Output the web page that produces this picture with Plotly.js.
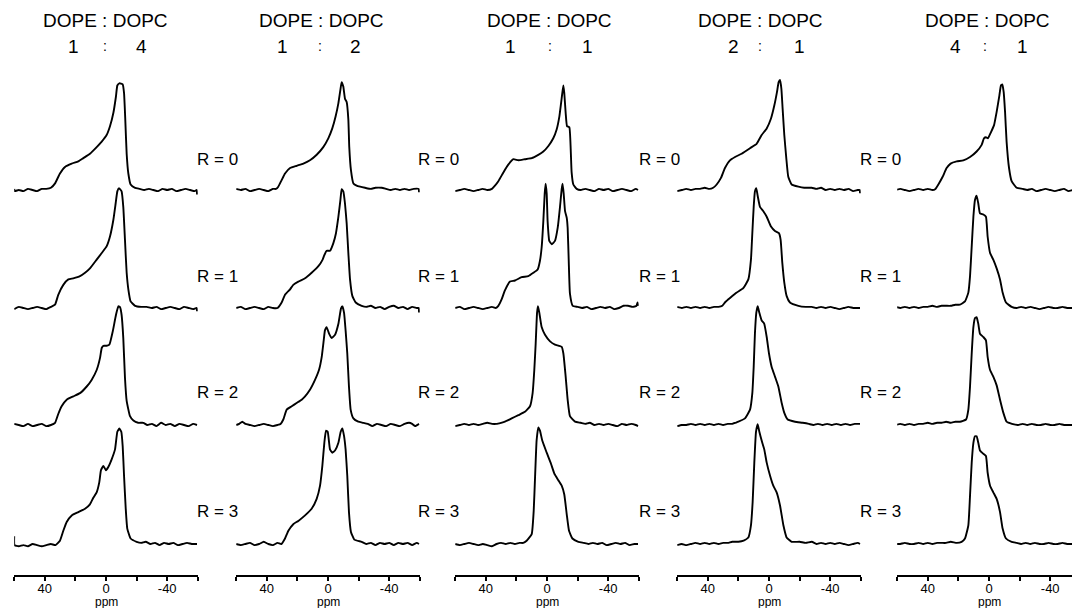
<!DOCTYPE html>
<html><head><meta charset="utf-8">
<script src="https://cdn.plot.ly/plotly-3.0.1.min.js"></script>
<style>html,body{margin:0;padding:0;background:#fff}#chart{width:1072px;height:608px}</style>
</head><body><div id="chart"></div>
<script>
// ---------- data (ppm, relative intensity) ----------
const ratioLeft  = ["1","1","1","2","4"];
const ratioRight = ["4","2","1","1","1"];
const panelTitle = "DOPE : DOPC";
const rLabels = ["R = 0","R = 1","R = 2","R = 3"];
const tickVals = [60,40,20,0,-20,-40,-60];
const tickText = ["","40","","0","","-40",""];

const C1R0 = [[60,0.01],[59.6,-0.01],[57,0],[54,-0.01],[51,0.01],[48,0],[45,-0.01],[42,0.01],[39,0.01],[36,0.02],[33.3,0.06],[30.1,0.15],[26.8,0.21],[22.4,0.24],[18.1,0.26],[14.8,0.29],[10.5,0.33],[6.1,0.39],[2.8,0.44],[-0.4,0.50],[-2.6,0.58],[-4.8,0.70],[-6.5,0.85],[-7.4,0.95],[-8.7,0.97],[-10.9,0.96],[-11.8,0.88],[-12.6,0.64],[-13.5,0.33],[-14.6,0.15],[-16.1,0.05],[-19,0.02],[-22,0.01],[-25,0],[-28,0.01],[-31,0],[-34,-0.01],[-37,0.01],[-40,0],[-43,0.01],[-46,-0.01],[-49,0],[-52,0.01],[-55,0],[-58,-0.01],[-59.3,0],[-59.5,-0.04]];
const C1R1 = [[60,-0.01],[57,0.01],[54,0],[51,-0.01],[48,0],[45,0.01],[42,0],[39,-0.01],[36,0.01],[33.3,0.03],[31.2,0.12],[27.9,0.21],[24.6,0.26],[21.4,0.27],[17,0.29],[13.7,0.32],[10.5,0.36],[6.1,0.44],[2.8,0.50],[-0.4,0.56],[-2.6,0.65],[-4.8,0.80],[-6.3,0.95],[-7.4,1.06],[-8.5,1.09],[-10.2,1.06],[-11.3,0.92],[-12.4,0.62],[-13.5,0.32],[-14.6,0.17],[-16.1,0.06],[-19,0.02],[-23,0.01],[-26.6,0.01],[-30,0],[-33,0.01],[-36,-0.01],[-39,0],[-42,0.01],[-45,0],[-48,-0.01],[-51,0.01],[-54,0],[-57,-0.01],[-59.3,0],[-59.5,-0.03]];
const C1R2 = [[60,0.01],[57,0],[54,-0.01],[51,0.01],[48,-0.01],[45,0],[42,0.01],[39,-0.01],[36,0],[33.3,0.02],[31.2,0.10],[29,0.17],[25.7,0.23],[21.4,0.26],[17,0.29],[12.6,0.35],[9.4,0.41],[6.1,0.50],[3.9,0.61],[2.8,0.70],[1.7,0.72],[-0.4,0.72],[-2.2,0.73],[-4.4,0.85],[-6.5,1.00],[-8.1,1.08],[-9.2,1.07],[-10.2,1.00],[-11.3,0.79],[-12.4,0.43],[-13.5,0.22],[-15.7,0.08],[-17.9,0.04],[-21,0.02],[-24.4,0.02],[-27,0],[-30,0.01],[-33,-0.01],[-36,0.02],[-39,0],[-42,0.01],[-45,-0.01],[-48,0.01],[-51,0],[-54,-0.01],[-57,0.01],[-59.5,0]];
const C1R3 = [[60,0.07],[59.8,-0.01],[57,-0.02],[54,-0.01],[51,-0.02],[48,0],[45,-0.01],[42,-0.02],[39,-0.01],[36,0],[33,-0.01],[30.1,0.03],[27.9,0.12],[25.7,0.20],[22.4,0.26],[18.1,0.29],[13.7,0.32],[10.5,0.36],[8.3,0.42],[6.1,0.47],[4.4,0.56],[3.3,0.67],[1.7,0.71],[0,0.67],[-1.5,0.70],[-3.7,0.77],[-5.9,0.86],[-7.4,1.02],[-8.7,1.05],[-10,1.02],[-10.9,0.89],[-11.8,0.62],[-12.9,0.32],[-13.9,0.14],[-16.1,0.05],[-20,0.02],[-23,0.01],[-26,0.02],[-29,0],[-32,0.01],[-35,-0.01],[-38,0.01],[-41,0],[-44,0.01],[-47,-0.01],[-50,0],[-53,0.01],[-56,0],[-59.5,0]];

const C2R0 = [[60,0.01],[57,0],[54,0.01],[51,-0.01],[48,0],[45,0.01],[42,0],[39,-0.01],[36,0.01],[34,0.01],[32.5,0.03],[30.3,0.09],[28.1,0.15],[24.8,0.20],[20.5,0.22],[16.1,0.24],[11.8,0.27],[7.4,0.32],[3.1,0.39],[-0.2,0.47],[-2.8,0.56],[-5,0.67],[-6.8,0.79],[-8.1,0.91],[-8.9,0.98],[-10,0.94],[-11.1,0.83],[-12.2,0.80],[-13.3,0.64],[-13.9,0.39],[-15,0.18],[-16.6,0.06],[-18.7,0.04],[-21,0.03],[-24.2,0.02],[-28,0.01],[-31,0.02],[-35.1,0.02],[-38,0.01],[-41,0],[-44,0.01],[-47,0],[-50,0.01],[-53,0],[-56,0.01],[-59.3,0.01],[-59.5,-0.02]];
const C2R1 = [[60,0],[57,0.01],[54,-0.01],[51,0],[48,0.01],[45,0],[42,-0.01],[39,0.01],[36,0],[33,0],[30.3,0.05],[28.1,0.12],[24.8,0.17],[22.7,0.21],[19.4,0.24],[15,0.27],[10.7,0.32],[6.3,0.38],[3.5,0.44],[2.4,0.48],[0.9,0.52],[-1.3,0.52],[-3.5,0.59],[-5.2,0.68],[-6.8,0.83],[-8.1,0.98],[-8.9,1.08],[-10,1.06],[-11.1,0.95],[-12.2,0.77],[-13.3,0.50],[-14.4,0.26],[-15.9,0.11],[-18.1,0.05],[-22,0.02],[-25,0.01],[-28,0.02],[-31,0],[-34,0.01],[-37,-0.01],[-40,0.01],[-43,0.02],[-46,0],[-49,0.01],[-52,-0.01],[-55,0.01],[-58,0],[-59.3,0],[-59.5,-0.04]];
const C2R2 = [[60,0],[58,0.01],[56,0.03],[54,0.01],[51,0],[48,-0.01],[45,0],[42,0.01],[39,0],[36,-0.01],[33,0],[31,0.01],[29.2,0.05],[27,0.14],[23.7,0.17],[20.5,0.20],[17.2,0.23],[15,0.26],[11.8,0.32],[8.5,0.41],[5.9,0.50],[4.1,0.62],[2.8,0.77],[2,0.86],[0.9,0.89],[-0.7,0.83],[-2.4,0.79],[-4.6,0.82],[-6.8,0.92],[-8.5,1.06],[-9.4,1.08],[-10.5,1.02],[-11.5,0.86],[-12.6,0.65],[-13.7,0.35],[-14.8,0.14],[-16.6,0.06],[-19.8,0.03],[-23,0.02],[-26,0.01],[-29,-0.01],[-32,0.01],[-35,0],[-38,-0.01],[-41,0.01],[-44,0],[-47,-0.01],[-50,0.01],[-53,0.02],[-55,0.01],[-57,-0.01],[-59.5,0.01]];
const C2R3 = [[60,0],[57,-0.01],[54,0],[51,0.01],[48,-0.01],[45,0],[42,0.02],[39,0],[36,-0.01],[33,0.01],[30.5,0],[28.1,0.05],[25.9,0.12],[22.7,0.18],[19.4,0.21],[15,0.26],[10.7,0.32],[7.4,0.41],[5.2,0.53],[3.7,0.71],[2.4,0.92],[1.3,1.03],[0.2,1.02],[-1.3,0.86],[-2.8,0.83],[-4.6,0.85],[-6.8,0.92],[-8.3,1.02],[-9.4,1.05],[-10.5,0.98],[-11.5,0.86],[-12.6,0.62],[-13.7,0.29],[-15,0.11],[-17.2,0.04],[-22,0.02],[-25,0],[-28,0.01],[-31,-0.01],[-34,0.01],[-37,0],[-40,0.01],[-43,-0.01],[-46,0.01],[-49,0],[-52,0.01],[-55,-0.01],[-58,0.01],[-59.5,0]];

const C3R0 = [[60,-0.01],[57,0],[54,0.01],[51,0],[48,-0.01],[45,0],[42,0.01],[39,0],[36,0.01],[34,0.04],[31.8,0.08],[28.5,0.16],[25.3,0.23],[22,0.28],[18.7,0.27],[14.4,0.28],[10,0.29],[5.7,0.32],[2.4,0.35],[-0.9,0.40],[-4.1,0.47],[-6.3,0.55],[-8.1,0.67],[-9.2,0.79],[-10,0.88],[-10.7,0.95],[-11.3,0.88],[-12.2,0.70],[-13.1,0.58],[-14.6,0.57],[-15.5,0.37],[-16.1,0.16],[-17.2,0.05],[-19.4,0.01],[-22,0],[-25,0.01],[-28,0],[-31,-0.01],[-34,0.01],[-37,0],[-40,0.01],[-43,-0.01],[-46,0],[-49,0.01],[-52,0],[-55,-0.01],[-58,0.01],[-59.5,0]];
const C3R1 = [[60,0],[57,0.01],[54,-0.01],[51,0],[48,0.01],[45,0],[42,-0.01],[39,0],[36,0.01],[33.5,0],[31.8,0.02],[29.6,0.08],[27.5,0.16],[24.2,0.24],[20.9,0.25],[16.6,0.28],[12.2,0.29],[8.9,0.32],[6.1,0.35],[4.6,0.43],[3.5,0.55],[2.4,0.79],[1.5,1.04],[0.9,1.13],[0.2,1.04],[-0.4,0.79],[-1.5,0.61],[-3.1,0.58],[-5.2,0.61],[-7,0.73],[-8.5,0.92],[-9.6,1.08],[-10.2,1.13],[-10.9,1.04],[-11.8,0.88],[-12.9,0.82],[-13.5,0.73],[-14.2,0.43],[-15,0.13],[-16.8,0.02],[-20,0.01],[-23,0],[-26,0.01],[-29,-0.01],[-32,0],[-35,0.01],[-38,0],[-41,0.01],[-44,-0.01],[-47,0],[-50,0.02],[-53,0.02],[-56,0.01],[-58.5,0.02],[-59.2,0.05],[-59.5,0.02]];
const C3R2 = [[60,-0.01],[57,0],[54,0.01],[51,0],[48,0.01],[45,0],[42,0.01],[39,0.02],[36,0.01],[33,0.01],[30,0.02],[27.5,0.03],[23.1,0.06],[18.7,0.09],[14.4,0.12],[11.1,0.17],[9.4,0.29],[8.3,0.50],[7.4,0.74],[6.5,1.02],[5.9,1.08],[5,1.02],[3.5,0.89],[1.3,0.82],[-2,0.76],[-5.2,0.73],[-9.6,0.71],[-10.7,0.65],[-12.2,0.44],[-13.5,0.23],[-15,0.08],[-18.3,0.03],[-22,0.02],[-25,0.01],[-28,0.02],[-31,0],[-34,0.01],[-37,0],[-40,0.01],[-43,0],[-46,-0.01],[-49,0.01],[-52,0],[-55,0.01],[-58,0],[-59.5,-0.01]];
const C3R3 = [[60,0],[57,-0.01],[54,0],[51,0.01],[48,0],[45,-0.01],[42,0],[39,-0.01],[36,-0.02],[33,0],[30,0.01],[27,0],[24,0.01],[21,0],[18,0.01],[15.5,0.01],[13.3,0.03],[10,0.09],[8.7,0.30],[7.8,0.61],[6.8,0.94],[5.7,1.06],[4.6,1.03],[3.1,0.94],[0.2,0.83],[-2.6,0.73],[-4.8,0.64],[-7.4,0.58],[-9.6,0.53],[-11.3,0.45],[-12.9,0.27],[-14.4,0.12],[-16.6,0.05],[-20.5,0.02],[-24,0.01],[-27,0],[-30,0.01],[-33,0],[-36,0.01],[-39,-0.01],[-42,0],[-45,0.01],[-48,0],[-51,0.01],[-54,-0.01],[-57,0],[-59.5,0]];

const C4R0 = [[60,-0.01],[57,0],[54,0.01],[51,0],[48,0.01],[45,0.01],[42,0.02],[39,0.01],[36.5,0.02],[34.2,0.05],[31.4,0.11],[28.8,0.20],[25.5,0.27],[22.2,0.30],[17.9,0.33],[12.4,0.38],[8.1,0.42],[4.8,0.50],[1.5,0.56],[-1.3,0.65],[-3.5,0.77],[-5.2,0.89],[-6.3,0.98],[-7.2,1.00],[-8.1,0.92],[-8.9,0.74],[-10,0.50],[-11.3,0.29],[-12.6,0.12],[-14.8,0.05],[-19.2,0.03],[-23,0.02],[-27.9,0.02],[-31,0.01],[-34,0.02],[-37,0],[-40,0.01],[-43,0],[-46,0.01],[-49,0],[-52,0.01],[-55,-0.01],[-58,0],[-59.3,0],[-59.5,-0.03]];
const C4R1 = [[60,0.01],[57,0],[54,0.01],[51,0],[48,0.01],[45,0],[42,0.01],[39,0],[36,0.01],[33,0.01],[30.5,0.02],[28.8,0.05],[25.5,0.09],[21.1,0.14],[16.8,0.18],[13.5,0.26],[11.8,0.44],[10.9,0.68],[10,0.92],[9.2,1.06],[8.3,1.09],[7.4,1.02],[5.9,0.92],[3.7,0.88],[1.5,0.83],[-1.3,0.74],[-3.9,0.70],[-6.5,0.68],[-7.6,0.62],[-8.7,0.41],[-10,0.23],[-11.5,0.11],[-13.7,0.05],[-19.2,0.02],[-24,0.01],[-28,0.01],[-31,0],[-34,0.01],[-37,0],[-40,0.01],[-43,0],[-46,-0.01],[-49,0],[-52,0.01],[-55,0],[-58,0],[-59.5,0]];
const C4R2 = [[60,-0.01],[57,0],[54,0],[51,0.01],[48,0],[45,0.01],[42,0],[39,0.01],[36,0],[33,0.01],[30,0],[27,0.01],[24,0.01],[22,0.02],[20,0.03],[15.7,0.06],[12.4,0.14],[10.9,0.29],[10,0.53],[9.2,0.83],[8.3,1.02],[7.4,1.08],[6.3,1.02],[4.8,0.95],[3.1,0.92],[1.5,0.80],[0,0.65],[-1.7,0.53],[-3.9,0.44],[-6.1,0.35],[-8.3,0.20],[-10,0.11],[-12.2,0.05],[-17,0.03],[-22,0.02],[-26,0.01],[-29,0],[-32,0.01],[-35,0],[-38,0.01],[-41,0],[-44,0.01],[-47,0],[-50,0.01],[-53,0],[-56,0.01],[-59.5,0.01]];
const C4R3 = [[60,-0.01],[57,0],[54,-0.01],[51,0],[48,0.01],[45,0],[42,0.01],[39,0],[36,0.01],[33,0],[30,0.01],[27,0.01],[24,0.02],[20,0.02],[16.6,0.03],[13.5,0.06],[11.8,0.17],[10.7,0.38],[9.6,0.74],[8.5,1.02],[7.4,1.09],[6.3,1.02],[4.8,0.94],[3.1,0.86],[1.5,0.74],[-0.7,0.62],[-2.8,0.53],[-5,0.47],[-7.2,0.35],[-9.4,0.17],[-11.5,0.06],[-14.8,0.02],[-20,0.02],[-24,0.01],[-28,0.02],[-31,0],[-34,0.01],[-37,0],[-40,0.01],[-43,0],[-46,0.01],[-49,0],[-52,-0.01],[-55,0],[-58,0.01],[-59.5,0]];

const C5R0 = [[61,0],[58,0.01],[55,0],[52,-0.01],[49,0],[46,0.01],[43,0],[40,0.01],[37,0],[35,0.01],[33.1,0.05],[30.3,0.12],[27.7,0.20],[25.1,0.24],[21.1,0.26],[16.8,0.27],[12.4,0.30],[8.1,0.35],[4.8,0.41],[3.3,0.47],[2,0.48],[0.7,0.47],[-1.1,0.52],[-3.3,0.59],[-5,0.71],[-6.8,0.86],[-7.8,0.95],[-8.7,0.96],[-9.6,0.89],[-10.5,0.71],[-11.5,0.44],[-13.1,0.20],[-14.8,0.08],[-18.1,0.02],[-22,0.01],[-25,0],[-28,0.01],[-31,-0.01],[-34,0],[-37,0.01],[-40,0],[-43,-0.01],[-46,0],[-49,0.01],[-52,-0.01],[-55,0],[-58,0]];
const C5R1 = [[61,0.01],[58,0],[55,0.01],[52,0],[49,0.01],[46,0],[43,0.01],[40,0.01],[37,0.02],[34,0.01],[31,0.02],[28,0.02],[25,0.02],[22,0.03],[19,0.03],[15.7,0.06],[13.5,0.14],[12.4,0.29],[11.3,0.56],[10.2,0.83],[9.2,0.98],[8.1,1.02],[7,0.95],[5.9,0.86],[3.7,0.85],[2,0.83],[0.9,0.65],[-0.7,0.50],[-2.8,0.44],[-5,0.36],[-7.2,0.26],[-8.9,0.14],[-11.1,0.05],[-14.8,0.01],[-18,0],[-21,0.01],[-24,0],[-27,0.01],[-30,0],[-33,-0.01],[-36,0],[-39,0.01],[-42,0],[-45,0],[-48,0.01],[-51,0],[-54,0],[-58,0]];
const C5R2 = [[61,0],[58,0.01],[55,0],[52,0.01],[49,0],[46,0.01],[43,0.01],[40,0.02],[37,0.01],[34,0.02],[31,0.02],[28,0.03],[25,0.02],[22,0.03],[19,0.03],[15,0.05],[13.5,0.14],[12.4,0.35],[11.3,0.65],[10.2,0.89],[9.2,0.97],[8.1,0.98],[7,0.92],[5.9,0.83],[3.7,0.80],[2,0.77],[0.9,0.62],[-0.7,0.50],[-2.8,0.44],[-5,0.36],[-7.2,0.23],[-9.4,0.11],[-11.5,0.03],[-15,0.01],[-19,0],[-22,0.01],[-25,0],[-28,0.01],[-31,0],[-34,0],[-37,0.01],[-40,0],[-43,0],[-46,0.01],[-49,0],[-52,0],[-55,0],[-58,0]];
const C5R3 = [[61,0],[58,0],[55,0.01],[52,0],[49,0],[46,0.01],[43,0],[40,0.01],[37,0],[34,0.01],[31,0.01],[28,0.01],[25,0.02],[21,0.01],[17.9,0.02],[15.7,0.05],[13.5,0.17],[12.4,0.44],[11.3,0.74],[10.2,0.92],[9.2,0.98],[8.1,0.98],[7,0.92],[5.9,0.85],[3.7,0.82],[2,0.80],[0.9,0.65],[-0.7,0.53],[-2.8,0.47],[-5,0.41],[-7.2,0.29],[-8.9,0.14],[-11.1,0.05],[-14.8,0.02],[-18,0.01],[-21,0],[-24,0.01],[-27,0],[-30,0.01],[-33,0],[-36,0],[-39,0.01],[-42,0],[-45,0],[-48,0.01],[-51,0],[-54,0],[-58,0]];

const spectra = [
  [C1R0, C1R1, C1R2, C1R3],
  [C2R0, C2R1, C2R2, C2R3],
  [C3R0, C3R1, C3R2, C3R3],
  [C4R0, C4R1, C4R2, C4R3],
  [C5R0, C5R1, C5R2, C5R3]
];

// ---------- geometry (pixels) ----------
const W = 1072, H = 608;
const colCenter = [106, 328, 547, 769, 989];
const pxPerPpm = 1.53;
const baselinePx = [190, 308, 425, 544];
const unitPx = 110;
const yMin = -0.15, yMax = 1.25;
const axisPx = 576;
const titleX = [105, 321, 549, 760, 987];
const leftNumX = [73, 282, 510, 733, 955];
const colonX = [105, 320, 550, 760, 985];
const rightNumX = [141, 355, 587, 799, 1022];
const rLabelLeft = [195, 416, 637, 858];
const rLabelY = [159, 276, 392, 511];
const FONT = "Liberation Sans, Arial, sans-serif";

const layout = {
  width: W, height: H,
  margin: {l: 0, r: 0, t: 0, b: 0},
  paper_bgcolor: "#fff", plot_bgcolor: "rgba(0,0,0,0)",
  showlegend: false,
  annotations: []
};

const xName = c => c === 0 ? "x" : "x" + (c + 1);
const yName = r => r === 0 ? "y" : "y" + (r + 1);
const axKey = n => n.replace("x", "xaxis").replace("y", "yaxis");

for (let c = 0; c < 5; c++) {
  const left = colCenter[c] - 60 * pxPerPpm;
  let right = colCenter[c] + 60 * pxPerPpm;
  let rightPpm = -60;
  if (right > W) { rightPpm = -(W - colCenter[c]) / pxPerPpm; right = W; }
  layout[axKey(xName(c))] = {
    domain: [left / W, right / W],
    range: [60, rightPpm],
    anchor: "free", position: 1 - axisPx / H,
    showline: true, linecolor: "#000", linewidth: 2,
    ticks: "outside", ticklen: 4, tickwidth: 2, tickcolor: "#000",
    tickmode: "array", tickvals: tickVals, ticktext: tickText,
    ticklabelstandoff: -4,
    tickfont: {family: FONT, size: 13, color: "#000"},
    showgrid: false, zeroline: false, fixedrange: true
  };
  layout.annotations.push({
    xref: xName(c), yref: "paper", x: 0, y: 1 - 602 / H,
    text: "ppm", showarrow: false, xanchor: "center", yanchor: "middle",
    font: {family: FONT, size: 12, color: "#000"}
  });
  layout.annotations.push({
    xref: "paper", yref: "paper", x: titleX[c] / W, y: 1 - 21 / H,
    text: panelTitle, showarrow: false, xanchor: "center", yanchor: "middle",
    font: {family: FONT, size: 19, color: "#000"}
  });
  [[leftNumX[c], ratioLeft[c]], [colonX[c], ":"], [rightNumX[c], ratioRight[c]]].forEach(([px, t]) => {
    layout.annotations.push({
      xref: "paper", yref: "paper", x: px / W, y: 1 - 46 / H,
      text: t, showarrow: false, xanchor: "center", yanchor: "middle",
      font: {family: FONT, size: t === ":" ? 14 : 19, color: "#000"}
    });
  });
}

for (let r = 0; r < 4; r++) {
  layout[axKey(yName(r))] = {
    domain: [1 - (baselinePx[r] - yMin * unitPx) / H, 1 - (baselinePx[r] - yMax * unitPx) / H],
    range: [yMin, yMax], visible: false, showgrid: false, zeroline: false,
    anchor: "x", fixedrange: true
  };
  for (let g = 0; g < 4; g++) {
    layout.annotations.push({
      xref: "paper", yref: "paper", x: rLabelLeft[g] / W, y: 1 - rLabelY[r] / H,
      text: rLabels[r], showarrow: false, xanchor: "left", yanchor: "middle",
      font: {family: FONT, size: 17, color: "#000"}
    });
  }
}

const traces = [];
for (let c = 0; c < 5; c++) {
  for (let r = 0; r < 4; r++) {
    const s = spectra[c][r];
    traces.push({
      type: "scatter", mode: "lines",
      x: s.map(p => p[0]), y: s.map(p => p[1]),
      xaxis: xName(c), yaxis: yName(r),
      line: {color: "#000", width: 1.9, shape: "spline", smoothing: 0.4},
      hoverinfo: "skip"
    });
  }
}

Plotly.newPlot("chart", traces, layout, {staticPlot: true, displayModeBar: false});
</script>
</body></html>
